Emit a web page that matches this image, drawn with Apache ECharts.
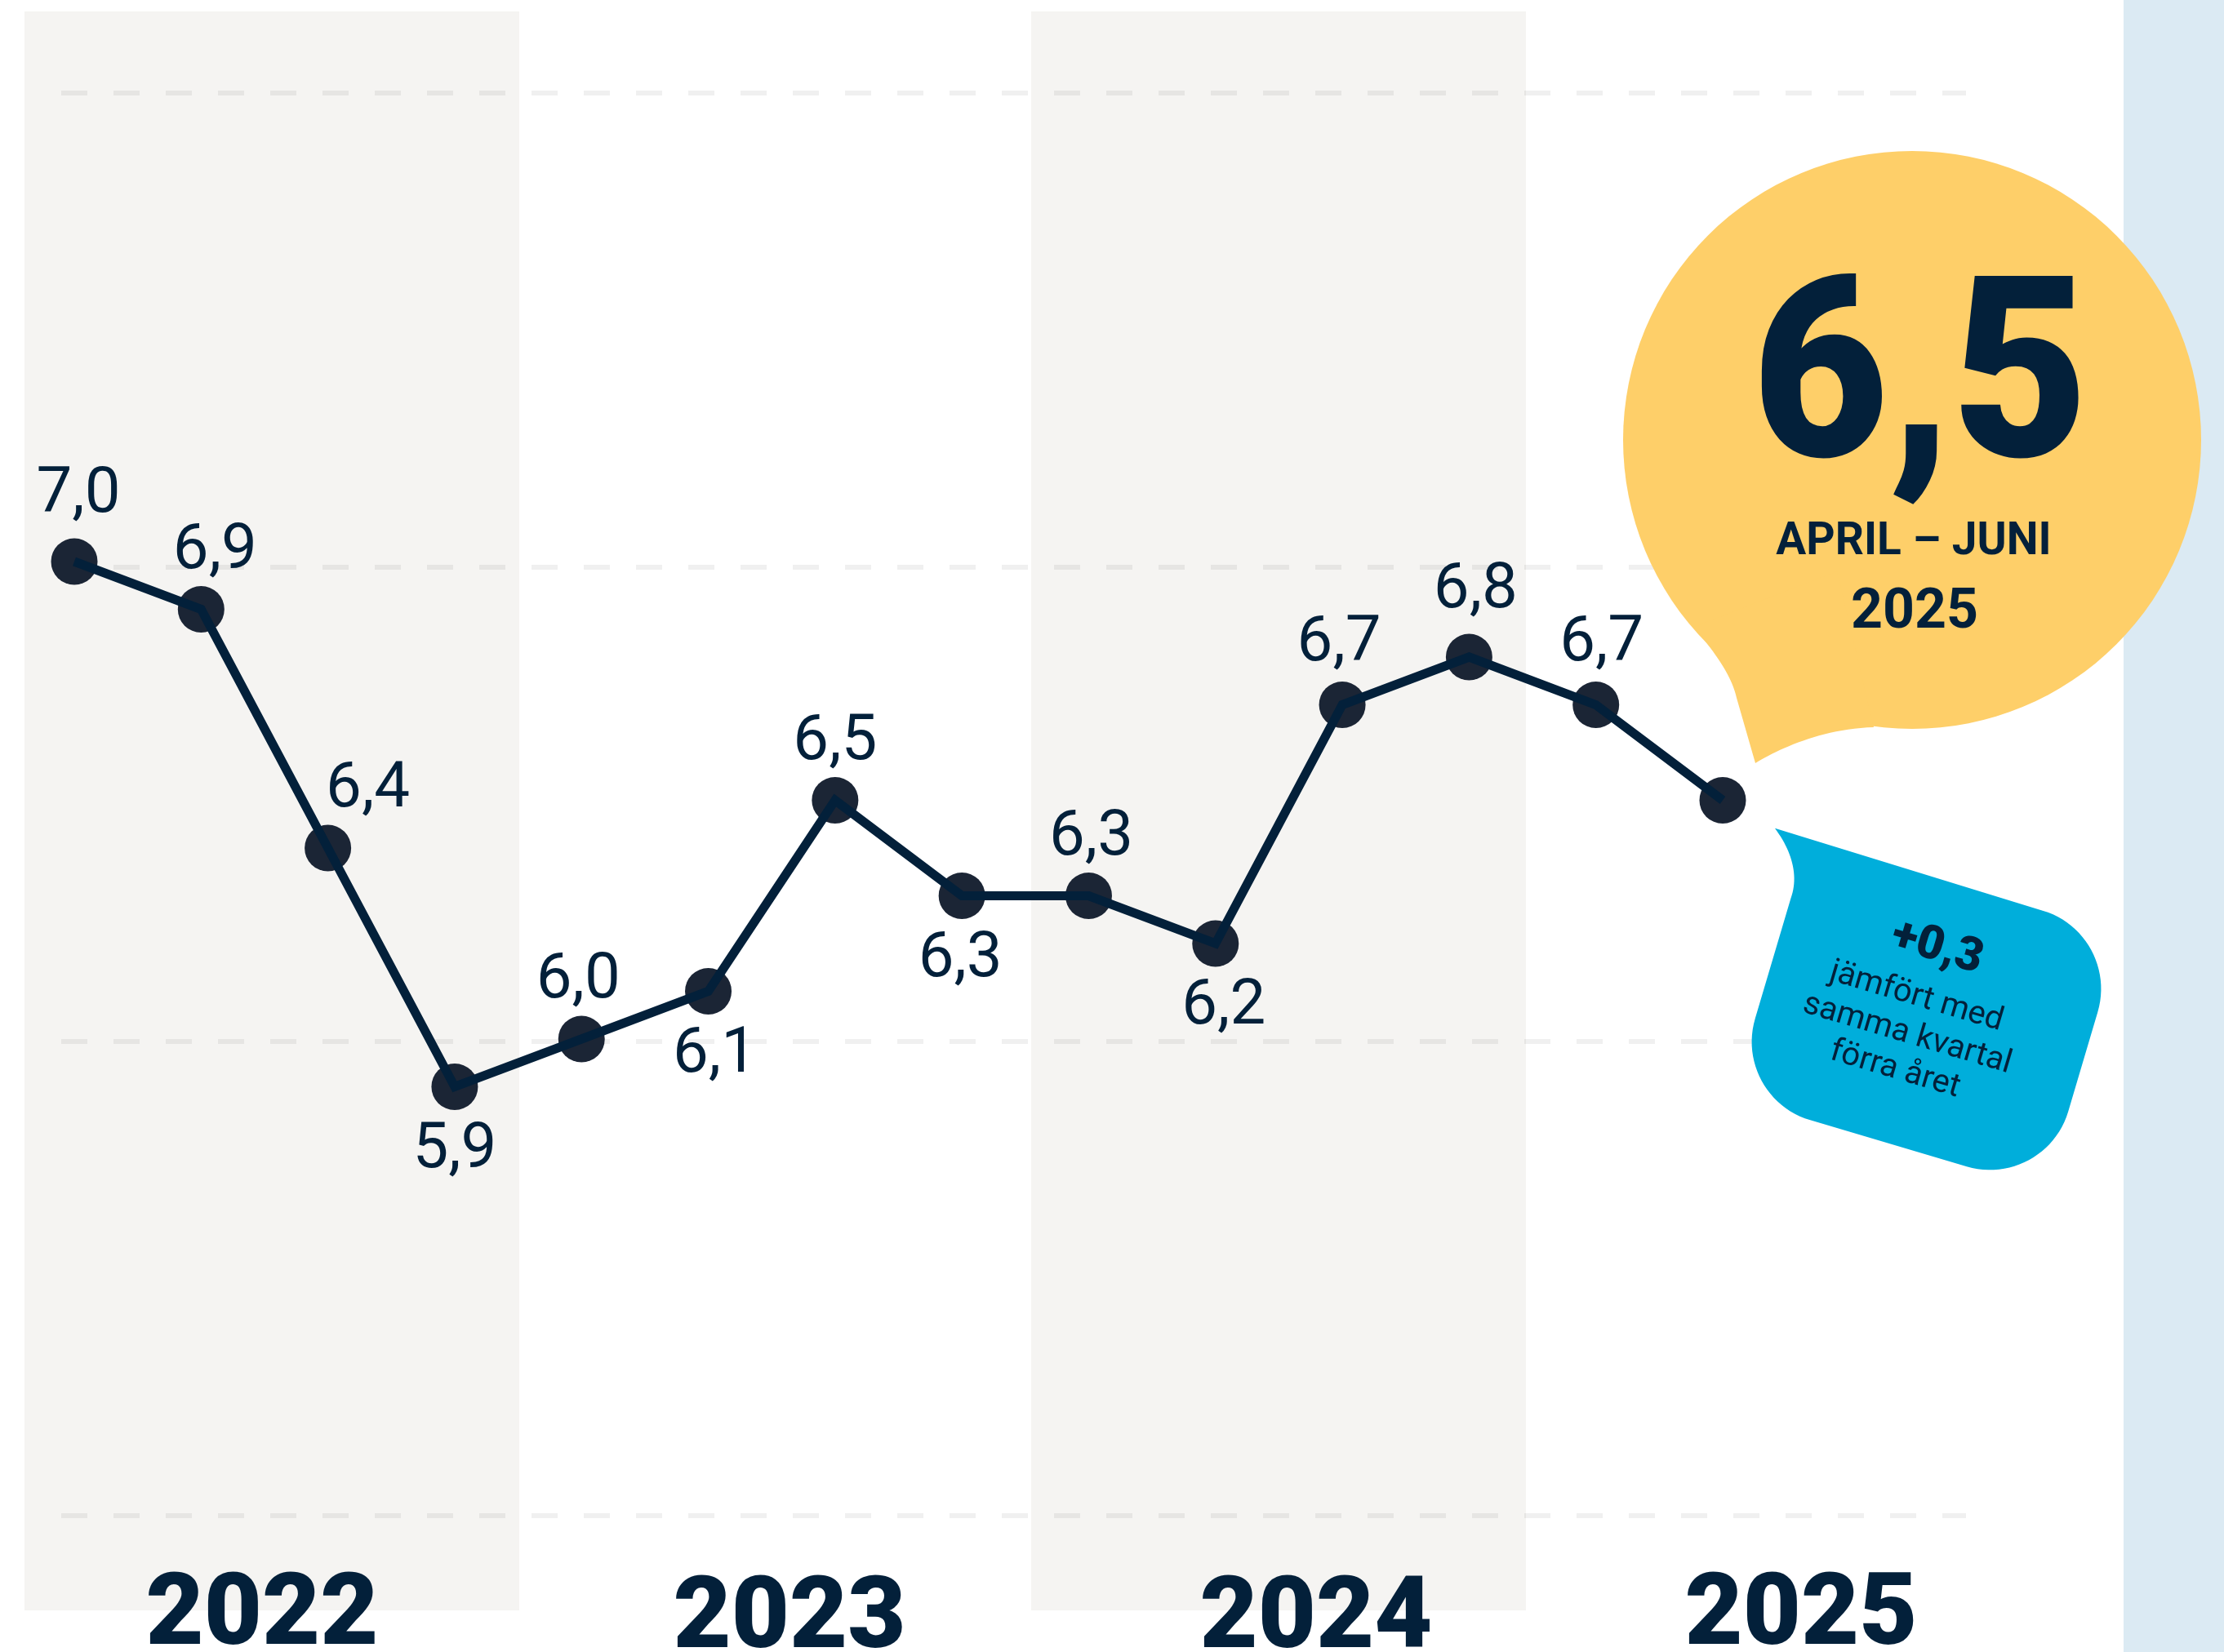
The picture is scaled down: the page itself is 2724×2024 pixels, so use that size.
<!DOCTYPE html>
<html>
<head>
<meta charset="utf-8">
<script src="https://cdn.jsdelivr.net/npm/echarts@6/dist/echarts.min.js"></script>
<style>
html,body{margin:0;padding:0;background:#ffffff;}
#chart{width:2724px;height:2024px;}
</style>
</head>
<body>
<div id="chart"></div>
<script>
// ---------------- DATA ----------------
const quarters = ['2022 kv1','2022 kv2','2022 kv3','2022 kv4',
                  '2023 kv1','2023 kv2','2023 kv3','2023 kv4',
                  '2024 kv1','2024 kv2','2024 kv3','2024 kv4',
                  '2025 kv1','2025 kv2'];
const values = [7.0, 6.9, 6.4, 5.9, 6.0, 6.1, 6.5, 6.3, 6.3, 6.2, 6.7, 6.8, 6.7, 6.5];
const years = ['2022', '2023', '2024', '2025'];
const shadedYears = [1, 0, 1, 0];
const yTicks = [5, 6, 7, 8];
const periodLabel = 'APRIL – JUNI';
const periodYear = '2025';
const compareLines = ['jämfört med', 'samma kvartal', 'förra året'];

// ---------------- STYLE ----------------
const NAVY = '#03203a';
const DOT = '#1b2535';
const labelSide = ['top','top','top','bottom','top','bottom','top','bottom','top','bottom','top','top','top', null];
const labelNudge = [[5,-10],[17,0],[49,0],[0,0],[-4,0],[8,0],[0,0],[-2,0],[3,0],[10,0],[-4,-4],[8,-10],[7,-4],[0,0]];

const fmt = v => v.toFixed(1).replace('.', ',');
const last = values.length - 1;
const change = values[last] - values[last - 4];
const changeText = (change >= 0 ? '+' : '−') + fmt(Math.abs(change));

// sampled path helper for polygons
function pathPoints(start, segs) {
  const pts = [start];
  let cur = start;
  segs.forEach(s => {
    if (s.length === 1) { pts.push(s[0]); cur = s[0]; return; }
    const ctrl = [cur].concat(s);
    const n = 24;
    for (let i = 1; i <= n; i++) {
      const t = i / n;
      let p = ctrl.map(q => q.slice());
      while (p.length > 1) {
        const np = [];
        for (let k = 0; k < p.length - 1; k++) {
          np.push([p[k][0] + (p[k+1][0] - p[k][0]) * t, p[k][1] + (p[k+1][1] - p[k][1]) * t]);
        }
        p = np;
      }
      pts.push(p[0]);
    }
    cur = s[s.length - 1];
  });
  return pts;
}

const K = 0.5523 * 100;
const calloutPts = pathPoints([-243, -167], [
  [[100, -163.5]],
  [[100 + K, -163.5], [200, -63.5 - K], [200, -63.5]],
  [[200, 63.5]],
  [[200, 63.5 + K], [100 + K, 163.5], [100, 163.5]],
  [[-100, 163.5]],
  [[-100 - K, 163.5], [-200, 63.5 + K], [-200, 63.5]],
  [[-200, -90]],
  [[-198, -120], [-216, -147], [-243, -167]]
]);

const tailPts = pathPoints([2075, 768], [
  [[2100, 800], [2120, 825], [2127, 855]],
  [[2150, 935]],
  [[2178, 918], [2230, 893], [2295, 891]],
  [[2250, 700]]
]);

const scatterData = values.map((v, i) => {
  const side = labelSide[i];
  return {
    value: [quarters[i], v],
    label: side ? {
      show: true,
      position: side,
      distance: side === 'top' ? 3 : 11,
      offset: labelNudge[i]
    } : { show: false }
  };
});

const yearRich = {};
const yearPad = [[20,24,0,0],[28,0,0,35],[28,0,0,92],[20,0,0,47]];
years.forEach((y, i) => {
  yearRich['y' + i] = {
    fontFamily: 'Roboto', fontWeight: 900, fontSize: 123, color: NAVY, padding: yearPad[i]
  };
});

const TXT = (x, y, text, font, sx) => ({
  type: 'text', x: x, y: y, z: 22, silent: true, scaleX: sx || 1,
  style: {text: text, fill: NAVY, font: font,
    align: 'center', verticalAlign: 'middle', textAlign: 'center', textVerticalAlign: 'middle'}
});

const chart = echarts.init(document.getElementById('chart'), null, {renderer: 'canvas'});

chart.setOption({
  animation: false,
  backgroundColor: '#ffffff',
  grid: [
    {left: 91, right: 614, top: 103, bottom: 166, outerBoundsMode: 'none', containLabel: false},
    {left: 24.75, right: 233.25, top: 14, bottom: 51, outerBoundsMode: 'none', containLabel: false},
    {left: 75, right: 316, top: 114, bottom: 167, outerBoundsMode: 'none', containLabel: false}
  ],
  xAxis: [
    {type: 'category', gridIndex: 0, data: quarters, boundaryGap: false, show: false},
    {type: 'category', gridIndex: 1, data: years, z: 5,
     axisLine: {show: false}, axisTick: {show: false}, splitLine: {show: false},
     axisLabel: {
       show: true, interval: 0, margin: 0, verticalAlign: 'middle',
       fontFamily: 'Roboto', fontWeight: 900, fontSize: 123, color: NAVY,
       formatter: (v, i) => '{y' + i + '|' + v + '}',
       rich: yearRich
     }},
    {type: 'value', gridIndex: 2, show: false, min: 0, max: 1}
  ],
  yAxis: [
    {type: 'value', gridIndex: 0, min: yTicks[0], max: yTicks[yTicks.length - 1], show: false},
    {type: 'value', gridIndex: 1, min: 0, max: 1, show: false},
    {type: 'value', gridIndex: 2, min: yTicks[0], max: yTicks[yTicks.length - 1], interval: 1, z: 1,
     axisLine: {show: false}, axisTick: {show: false}, axisLabel: {show: false},
     splitLine: {show: true, lineStyle: {color: 'rgba(0,0,0,0.06)', width: 6, type: [32, 32]}}}
  ],
  series: [
    {
      type: 'bar', xAxisIndex: 1, yAxisIndex: 1, z: 0, silent: true,
      barWidth: 606, barGap: '-100%',
      itemStyle: {color: '#f5f4f2'},
      data: shadedYears.map(s => s ? 1 : '-')
    },
    {
      type: 'scatter', xAxisIndex: 0, yAxisIndex: 0, z: 2, silent: true,
      symbol: 'circle', symbolSize: 57,
      itemStyle: {color: DOT, opacity: 1},
      label: {
        fontFamily: 'Roboto', fontWeight: 400, fontSize: 78, lineHeight: 78, color: NAVY,
        formatter: p => fmt(p.value[1])
      },
      data: scatterData
    },
    {
      type: 'line', xAxisIndex: 0, yAxisIndex: 0, z: 3, silent: true,
      symbol: 'none', showSymbol: false,
      lineStyle: {color: NAVY, width: 11, join: 'miter', cap: 'butt'},
      data: values
    }
  ],
  graphic: [
    {type: 'rect', z: 0, silent: true, shape: {x: 2601, y: 0, width: 123, height: 2024}, style: {fill: '#dbeaf3'}},
    {type: 'circle', z: 20, silent: true, shape: {cx: 2342, cy: 539, r: 354}, style: {fill: '#fecf69'}},
    {type: 'polygon', z: 20, silent: true, shape: {points: tailPts}, style: {fill: '#fecf69'}},
    TXT(2352, 481, fmt(values[last]), '900 310px Roboto', 0.93),
    TXT(2344, 665, periodLabel, '700 55px Roboto'),
    TXT(2345, 752, periodYear, '700 68px Roboto'),
    {type: 'group', z: 20, silent: true, x: 2359.5, y: 1244, rotation: -16.5 * Math.PI / 180, children: [
      {type: 'polygon', z: 20, shape: {points: calloutPts}, style: {fill: '#00aedb'}},
      TXT(-11, -82, changeText, '900 58px Roboto'),
      TXT(-18, -18, compareLines[0], '400 40px Roboto'),
      TXT(-16, 29, compareLines[1], '400 40px Roboto'),
      TXT(-18, 75, compareLines[2], '400 40px Roboto')
    ]}
  ]
});
</script>
</body>
</html>
